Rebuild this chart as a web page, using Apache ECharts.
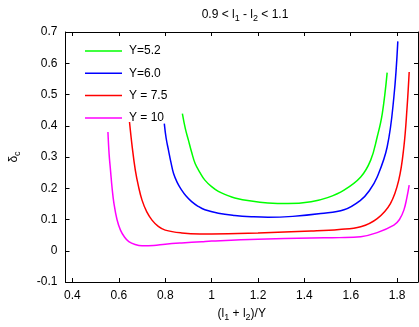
<!DOCTYPE html>
<html><head><meta charset="utf-8">
<script src="https://cdn.jsdelivr.net/npm/echarts@6/dist/echarts.min.js"></script>
<style>html,body{margin:0;padding:0;background:#fff}#c{width:419px;height:327px}</style>
</head><body><div id="c"></div>
<script>
var seriesNames = ['Y=5.2', 'Y=6.0', 'Y = 7.5', 'Y = 10'];
var xTicks = [0.4, 0.6, 0.8, 1.0, 1.2, 1.4, 1.6, 1.8];
var yTicks = [-0.1, 0, 0.1, 0.2, 0.3, 0.4, 0.5, 0.6, 0.7];

var greenX = [0.874,0.887,0.9,0.914,0.929,0.95,0.971,1.0,1.029,1.065,1.1,1.171,1.243,1.329,1.429,1.50,1.571,1.643,1.686,1.714,1.736,1.757];
var greenY = [0.439,0.39,0.354,0.315,0.279,0.250,0.226,0.205,0.190,0.178,0.169,0.159,0.153,0.151,0.157,0.170,0.194,0.236,0.290,0.364,0.439,0.570];

var blueX = [0.796,0.804,0.814,0.824,0.836,0.852,0.871,0.89,0.914,0.94,0.971,1.029,1.1,1.171,1.243,1.35,1.471,1.571,1.643,1.68,1.714,1.757,1.786,1.803];
var blueY = [0.407,0.36,0.322,0.285,0.247,0.218,0.194,0.175,0.157,0.143,0.131,0.120,0.113,0.109,0.107,0.110,0.119,0.131,0.162,0.192,0.236,0.332,0.492,0.670];

var redX = [0.646,0.658,0.671,0.685,0.70,0.72,0.743,0.77,0.8,0.871,0.95,1.0,1.2,1.429,1.55,1.643,1.714,1.771,1.807,1.829,1.843,1.852];
var redY = [0.412,0.33,0.258,0.205,0.162,0.125,0.098,0.078,0.066,0.057,0.054,0.054,0.057,0.063,0.068,0.077,0.103,0.151,0.226,0.332,0.46,0.572];

var magX = [0.553,0.558,0.564,0.571,0.579,0.592,0.607,0.625,0.643,0.67,0.7,0.75,0.8,0.871,0.957,1.0,1.2,1.429,1.55,1.643,1.714,1.786,1.81,1.829,1.842,1.852];
var magY = [0.380,0.31,0.258,0.2,0.151,0.1,0.066,0.043,0.029,0.020,0.016,0.017,0.021,0.025,0.029,0.031,0.037,0.041,0.042,0.045,0.058,0.082,0.10,0.130,0.17,0.210];

var colors = ['#00ff00', '#0000ff', '#ff0000', '#ff00ff'];
var xs = [greenX, blueX, redX, magX];
var ys = [greenY, blueY, redY, magY];

function zip(a, b) { return a.map(function (v, i) { return [v, b[i]]; }); }

var font = 'Liberation Sans, Arial, sans-serif';
var chart = echarts.init(document.getElementById('c'), null, {renderer: 'canvas'});

var axisCommon = {
  axisLine: {show: true, onZero: false, lineStyle: {color: '#000', width: 1}},
  splitLine: {show: false},
  axisTick: {show: true, inside: true, length: 4, lineStyle: {color: '#000'}}
};

var series = seriesNames.map(function (n, i) {
  return {
    name: n, type: 'line', data: zip(xs[i], ys[i]), symbol: 'none', smooth: 0.4,
    lineStyle: {color: colors[i], width: 1.5}, itemStyle: {color: colors[i]}, z: 3
  };
});

chart.setOption({
  animation: false,
  backgroundColor: '#fff',
  title: {
    text: '0.9 < l{s|1} - l{s|2} < 1.1',
    left: 240, top: 1, textAlign: 'center',
    textStyle: {fontFamily: font, fontSize: 12, fontWeight: 'normal', color: '#000',
      rich: {s: {fontFamily: font, fontSize: 9, padding: [8, 0, 0, 0], color: '#000'}}}
  },
  grid: {left: 63, right: 1, top: 32, bottom: 45, show: false},
  legend: {
    orient: 'vertical', left: 80, top: 39, itemWidth: 37, itemHeight: 1.5, itemGap: 8.3, icon: 'rect',
    data: seriesNames, textStyle: {fontFamily: font, fontSize: 12, color: '#000', padding: [0, 0, 0, 2], lineHeight: 14}
  },
  xAxis: [
    Object.assign({}, axisCommon, {
      type: 'value', min: 0.37, max: 1.89, position: 'bottom',
      axisLabel: {customValues: xTicks, fontFamily: font, fontSize: 12, color: '#000', margin: 8},
      axisTick: {show: true, inside: true, length: 4, customValues: xTicks, lineStyle: {color: '#000'}},
      name: '(l{s|1} + l{s|2})/Y', nameLocation: 'middle', nameGap: 23,
      nameTextStyle: {fontFamily: font, fontSize: 12, color: '#000',
        rich: {s: {fontFamily: font, fontSize: 9, padding: [8, 0, 0, 0], color: '#000'}}}
    }),
    Object.assign({}, axisCommon, {
      type: 'value', min: 0.37, max: 1.89, position: 'top',
      axisLabel: {show: false, customValues: xTicks},
      axisTick: {show: true, inside: true, length: 4, customValues: xTicks, lineStyle: {color: '#000'}}
    })
  ],
  yAxis: [
    Object.assign({}, axisCommon, {
      type: 'value', min: -0.1, max: 0.7, interval: 0.1, position: 'left',
      axisLabel: {fontFamily: font, fontSize: 12, color: '#000', margin: 8,
        formatter: function (v) { return String(Math.round(v * 10) / 10); }},
      name: 'δ{s|c}', nameLocation: 'middle', nameGap: 43, nameRotate: 90,
      nameTextStyle: {fontFamily: font, fontSize: 12, color: '#000',
        rich: {s: {fontFamily: font, fontSize: 9, padding: [8, 0, 0, 0], color: '#000'}}}
    }),
    Object.assign({}, axisCommon, {
      type: 'value', min: -0.1, max: 0.7, interval: 0.1, position: 'right',
      axisLabel: {show: false}
    })
  ],
  series: series
});
</script></body></html>
